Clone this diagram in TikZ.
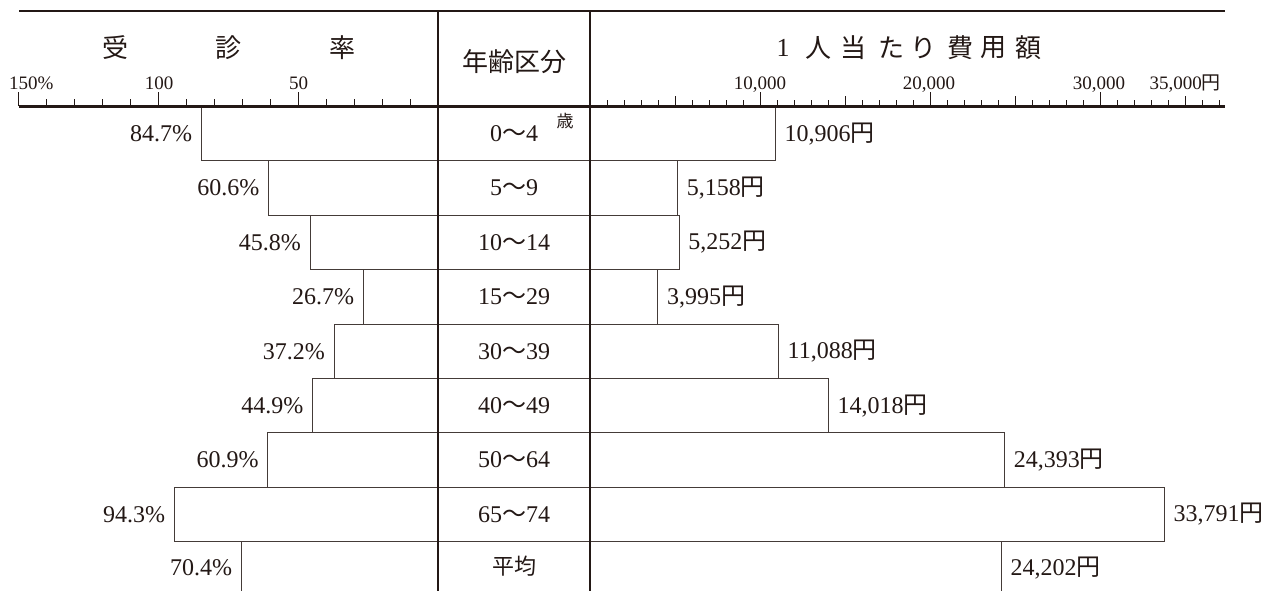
\documentclass[tikz,border=0pt]{standalone}
\usepackage{fontspec}
\setmainfont{Liberation Serif}
\newfontfamily\cjk{Noto Sans CJK JP}
\definecolor{ink}{HTML}{231815}
\begin{document}
\begin{tikzpicture}[x=1pt,y=-1pt,
  thickrule/.style={draw=ink,line width=2.4pt},
  barline/.style={draw=ink!85,line width=0.9pt},
  tickline/.style={draw=ink,line width=1pt},
  val/.style={font=\fontsize{24}{24}\selectfont,text=ink,inner sep=0pt},
  tlab/.style={font=\fontsize{19}{19}\selectfont,text=ink,inner sep=0pt,anchor=base},
  head/.style={font=\cjk\fontsize{26}{26}\selectfont,text=ink,inner sep=0pt},
]
\useasboundingbox (0,0) rectangle (1268,590);

% bars (cost given in thousands of yen)
\foreach \i/\age/\p/\v/\vtxt in {
  0/{0{\cjk ～}4}/84.7/10.906/{10,906},
  1/{5{\cjk ～}9}/60.6/5.158/{5,158},
  2/{10{\cjk ～}14}/45.8/5.252/{5,252},
  3/{15{\cjk ～}29}/26.7/3.995/{3,995},
  4/{30{\cjk ～}39}/37.2/11.088/{11,088},
  5/{40{\cjk ～}49}/44.9/14.018/{14,018},
  6/{50{\cjk ～}64}/60.9/24.393/{24,393},
  7/{65{\cjk ～}74}/94.3/33.791/{33,791}}{
  \pgfmathsetmacro\ytop{106.5+54.4*\i}
  \pgfmathsetmacro\ybot{\ytop+54.4}
  \pgfmathsetmacro\ymid{\ytop+27.2}
  \pgfmathsetmacro\xa{438-2.795*\p}
  \pgfmathsetmacro\xb{590+17*\v}
  \draw[barline] (\xa,\ytop) rectangle (\xb,\ybot);
  \node[val,anchor=east] (L\i) at (\xa-9,\ymid) {\p\%};
  \node[val,anchor=west] (R\i) at (\xb+9,\ymid) {\vtxt{\cjk 円}};
  \node[val] (A\i) at (514,\ymid) {\age};
}
\node[font=\cjk\fontsize{17}{17}\selectfont,text=ink,inner sep=0pt] (sai) at (565,121) {歳};

% average row
\pgfmathsetmacro\xa{438-2.795*70.4}
\pgfmathsetmacro\xb{590+17*24.202}
\coordinate (avgLtop) at (\xa,541.7);
\coordinate (avgLbot) at (\xa,592);
\coordinate (avgRtop) at (\xb,541.7);
\coordinate (avgRbot) at (\xb,592);
\draw[barline] (avgLtop) -- (avgLbot);
\draw[barline] (avgRtop) -- (avgRbot);
\node[val,anchor=east] (L8) at (\xa-9,568) {70.4\%};
\node[val,anchor=west] (R8) at (\xb+9,568) {24,202{\cjk 円}};
\node[val,font=\cjk\fontsize{22}{22}\selectfont] (A8) at (514,566) {平均};

% ticks left
\foreach \k in {0,...,15}{
  \pgfmathsetmacro\tx{438-27.95*\k}
  \pgfmathsetmacro\th{ifthenelse(mod(\k,5)==0,13,6)}
  \draw[tickline] (\tx,106) -- (\tx,106-\th-1.2);
}
% ticks right
\foreach \k in {0,...,37}{
  \pgfmathsetmacro\tx{590+17*\k}
  \pgfmathsetmacro\th{ifthenelse(mod(\k,10)==0,12.5,ifthenelse(mod(\k,5)==0,9,5))}
  \draw[tickline] (\tx,106) -- (\tx,106-\th-1.2);
}

% rules
\coordinate (topL) at (19,11);
\coordinate (topR) at (1225,11);
\coordinate (axL) at (19,106.5);
\coordinate (axR) at (1225,106.5);
\coordinate (v1t) at (438,11);
\coordinate (v1b) at (438,592);
\coordinate (v2t) at (590,11);
\coordinate (v2b) at (590,592);
\draw[thickrule] (topL) -- (topR);
\draw[thickrule] (axL) -- (axR);
\draw[thickrule] (v1t) -- (v1b);
\draw[thickrule] (v2t) -- (v2b);

% tick labels
\node[tlab,anchor=base west] (t150) at (9,89.5) {150\%};
\node[tlab] (t100) at (159,89.5) {100};
\node[tlab] (t50) at (298.5,89.5) {50};
\node[tlab] (t10k) at (760,89.5) {10,000};
\node[tlab] (t20k) at (929,89.5) {20,000};
\node[tlab] (t30k) at (1099,89.5) {30,000};
\node[tlab,anchor=base east] (t35k) at (1221,89.5) {35,000{\cjk 円}};

% headers
\node[head] (h1) at (115,48) {受};
\node[head] (h2) at (228,48) {診};
\node[head] (h3) at (342,48) {率};
\node[head] (hmid) at (514,62) {年齢区分};
\node[head,font=\fontsize{26}{26}\selectfont] (r1) at (783,48) {1};
\node[head] (r2) at (818,48) {人};
\node[head] (r3) at (853,48) {当};
\node[head] (r4) at (891,48) {た};
\node[head] (r5) at (923,48) {り};
\node[head] (r6) at (960,48) {費};
\node[head] (r7) at (993,48) {用};
\node[head] (r8) at (1028,48) {額};
\end{tikzpicture}
\end{document}
